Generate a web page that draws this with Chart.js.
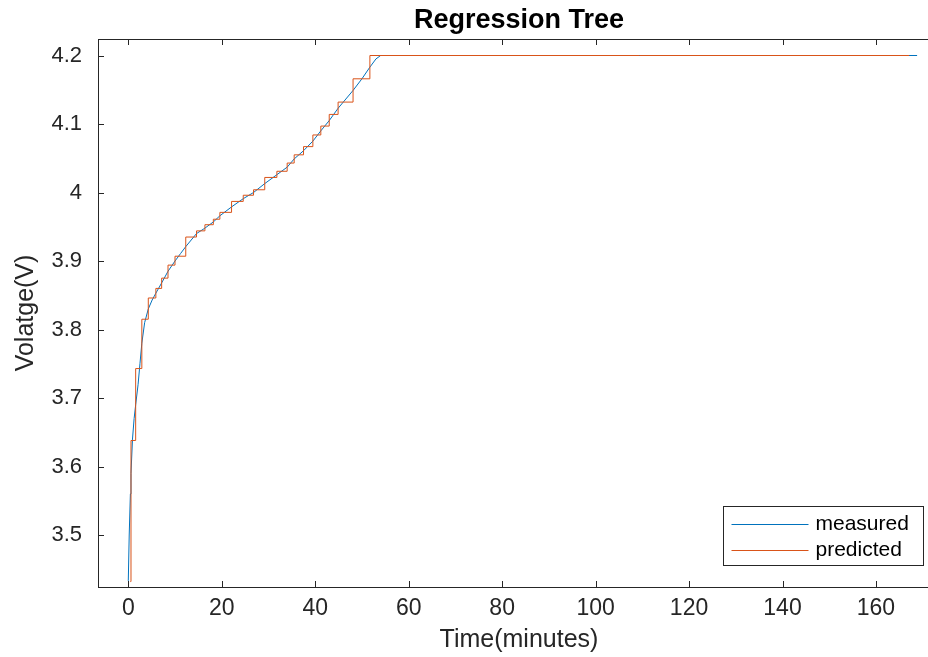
<!DOCTYPE html>
<html lang="en">
<head>
<meta charset="UTF-8">
<title>Regression Tree</title>
<script src="https://cdn.jsdelivr.net/npm/chart.js"></script>
<style>
    html, body {
        margin: 0;
        padding: 0;
        background: #fff;
        overflow: hidden;
    }
    /* plot box runs a little past the right edge of the window, like the source figure */
    #wrap { width: 945px; height: 657px; }
</style>
</head>
<body>
<div id="wrap"><canvas id="treeChart" width="945" height="657"></canvas></div>
<script>
// measured battery voltage
const measuredTime = [0, 0.2, 0.45, 0.58, 0.9, 1.25, 1.58, 2.1, 2.5, 2.9, 3.5, 4.28, 5.1, 5.9, 7.14, 8.5, 10.0,
    11.2, 12.3, 14.6, 16.4, 18.2, 19.6, 22.1, 24.6, 26.8, 29.2, 31.8, 34.0, 35.5, 37.5, 39.5, 41.2, 43.0,
    44.9, 48.1, 50.0, 51.7, 53.0, 54.0, 168.8];
const measuredVolt = [3.433, 3.50, 3.56, 3.59, 3.64, 3.67, 3.69, 3.72, 3.75, 3.78, 3.81, 3.83, 3.843, 3.853, 3.868, 3.885, 3.90,
    3.911, 3.921, 3.94, 3.948, 3.957, 3.966, 3.979, 3.991, 4.0, 4.013, 4.026, 4.037, 4.049, 4.061, 4.075, 4.09, 4.105,
    4.123, 4.149, 4.166, 4.183, 4.195, 4.2, 4.2];

// regression tree output: each value holds from its time until the next one
const predictedTime = [0.45, 0.58, 1.58, 2.9, 4.28, 5.9, 7.14, 8.5, 10.0, 12.3, 14.6, 16.4, 18.2, 19.6, 22.1,
    24.6, 26.8, 29.2, 31.8, 34.0, 35.5, 37.5, 39.5, 41.2, 43.0, 44.9, 48.1, 51.7, 167.1];
const predictedVolt = [3.432, 3.638, 3.743, 3.815, 3.846, 3.860, 3.875, 3.894, 3.907, 3.935, 3.944, 3.953, 3.961, 3.971, 3.987,
    3.996, 4.004, 4.022, 4.031, 4.043, 4.055, 4.067, 4.084, 4.097, 4.114, 4.132, 4.166, 4.2, 4.2];

const xTicks = [0, 20, 40, 60, 80, 100, 120, 140, 160];
const yTicks = [3.5, 3.6, 3.7, 3.8, 3.9, 4, 4.1, 4.2];
const seriesNames = ['measured', 'predicted'];

const BLUE = '#0072BD';
const ORANGE = '#D95319';
const AXIS = '#262626';
const FONT = '"Liberation Sans", Arial, Helvetica, sans-serif';

Chart.defaults.font.family = FONT;

function toPoints(xs, ys) {
    return xs.map((x, i) => ({ x: x, y: ys[i] }));
}

// box, inward tick marks, title and the legend, matlab style
const matlabFrame = {
    id: 'matlabFrame',
    afterDatasetsDraw(chart) {
        const { ctx, chartArea: a, scales } = chart;
        ctx.save();
        ctx.strokeStyle = AXIS;
        ctx.lineWidth = 1;
        ctx.strokeRect(a.left + 0.5, a.top + 0.5, a.right - a.left, a.bottom - a.top);

        ctx.beginPath();
        xTicks.forEach(v => {
            const px = Math.round(scales.x.getPixelForValue(v)) + 0.5;
            ctx.moveTo(px, a.bottom);
            ctx.lineTo(px, a.bottom - 6);
            ctx.moveTo(px, a.top);
            ctx.lineTo(px, a.top + 6);
        });
        yTicks.forEach(v => {
            const py = Math.round(scales.y.getPixelForValue(v)) + 0.5;
            ctx.moveTo(a.left, py);
            ctx.lineTo(a.left + 6, py);
            ctx.moveTo(a.right, py);
            ctx.lineTo(a.right - 6, py);
        });
        ctx.stroke();

        // title
        ctx.fillStyle = '#000';
        ctx.font = 'bold 27px ' + FONT;
        ctx.textAlign = 'center';
        ctx.textBaseline = 'alphabetic';
        ctx.fillText('Regression Tree', (a.left + a.right) / 2, a.top - 11);

        // legend, bottom right inside the axes
        const boxW = 200, boxH = 59;
        const bx = Math.round(a.right - 17 - boxW) + 0.5;
        const by = Math.round(a.bottom - 22 - boxH) + 0.5;
        ctx.fillStyle = '#fff';
        ctx.fillRect(bx, by, boxW, boxH);
        ctx.strokeStyle = AXIS;
        ctx.strokeRect(bx, by, boxW, boxH);

        const colors = [BLUE, ORANGE];
        ctx.font = '21px ' + FONT;
        ctx.textAlign = 'left';
        ctx.textBaseline = 'middle';
        seriesNames.forEach((name, i) => {
            const ly = Math.round(by + 17 + i * 26.5) + 0.5;
            ctx.strokeStyle = colors[i];
            ctx.beginPath();
            ctx.moveTo(bx + 8, ly);
            ctx.lineTo(bx + 85, ly);
            ctx.stroke();
            ctx.fillStyle = '#000';
            ctx.fillText(name, bx + 92, ly);
        });
        ctx.restore();
    }
};

new Chart(document.getElementById('treeChart').getContext('2d'), {
    type: 'line',
    data: {
        datasets: [{
            label: seriesNames[0],
            data: toPoints(measuredTime, measuredVolt),
            borderColor: BLUE,
            borderWidth: 1,
            pointRadius: 0,
            tension: 0,
            order: 1
        }, {
            label: seriesNames[1],
            data: toPoints(predictedTime, predictedVolt),
            borderColor: ORANGE,
            borderWidth: 1,
            pointRadius: 0,
            stepped: true,
            order: 0
        }]
    },
    options: {
        responsive: false,
        animation: false,
        layout: { padding: { top: 39, right: 5, bottom: 0, left: 0 } },
        plugins: {
            legend: { display: false },
            tooltip: { enabled: false }
        },
        scales: {
            x: {
                type: 'linear',
                min: -6.48,
                max: 173.7,
                grid: { display: false, drawTicks: false },
                border: { display: false },
                afterBuildTicks: s => { s.ticks = xTicks.map(v => ({ value: v })); },
                afterFit: s => { s.height = 70; },
                ticks: {
                    autoSkip: false,
                    maxRotation: 0,
                    padding: 8,
                    color: AXIS,
                    font: { size: 23 },
                    callback: v => String(v)
                },
                title: {
                    display: true,
                    text: 'Time(minutes)',
                    color: AXIS,
                    font: { size: 25 },
                    padding: { top: 2, bottom: 2 }
                }
            },
            y: {
                type: 'linear',
                min: 3.4241,
                max: 4.2241,
                grid: { display: false, drawTicks: false },
                border: { display: false },
                afterBuildTicks: s => { s.ticks = yTicks.map(v => ({ value: v })); },
                afterFit: s => { s.width = 98; },
                ticks: {
                    autoSkip: false,
                    padding: 16,
                    color: AXIS,
                    font: { size: 22 },
                    callback: v => String(v)
                },
                title: {
                    display: true,
                    text: 'Volatge(V)',
                    color: AXIS,
                    font: { size: 25 },
                    padding: { top: 11, bottom: 11 }
                }
            }
        }
    },
    plugins: [matlabFrame]
});
</script>
</body>
</html>
